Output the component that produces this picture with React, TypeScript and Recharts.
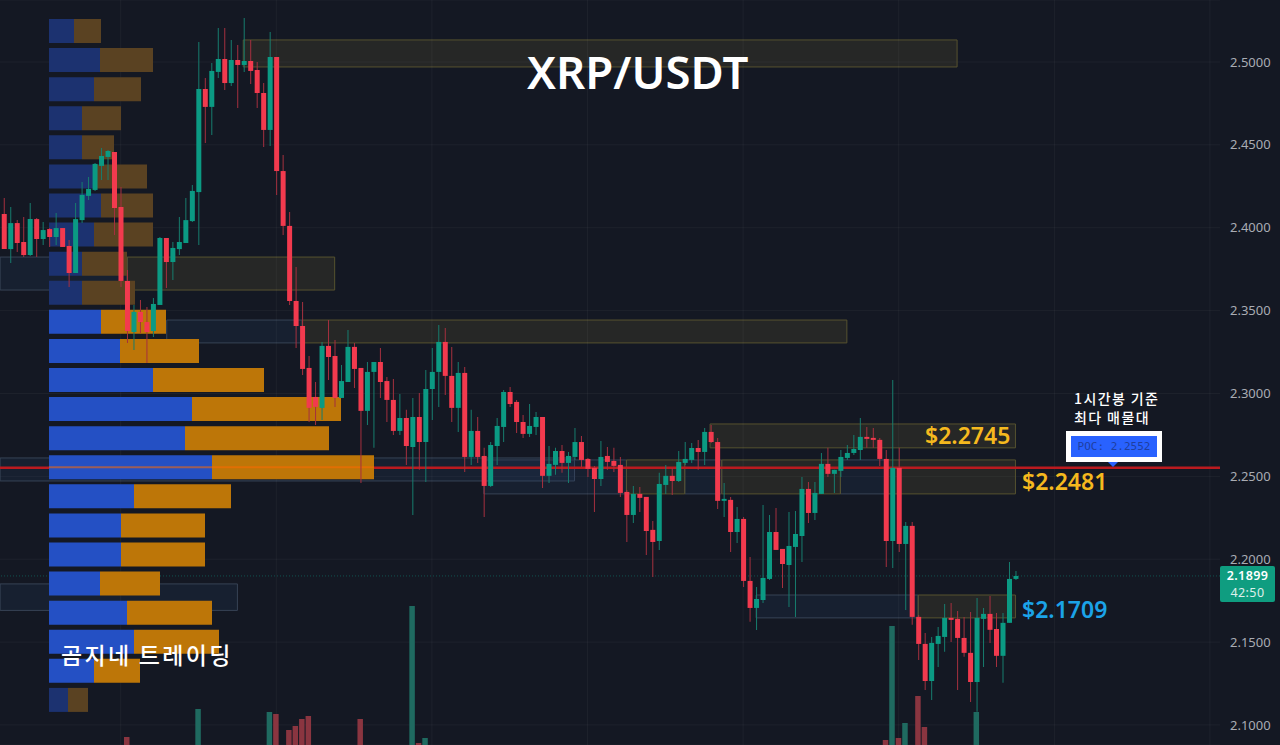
import {
  Bar,
  BarChart,
  CartesianGrid,
  Cell,
  ComposedChart,
  ReferenceArea,
  ReferenceLine,
  XAxis,
  YAxis,
} from "recharts";

// hourly candles, oldest first
const opens = [
  2.4083, 2.3871, 2.4028, 2.3914, 2.3835, 2.4052, 2.3932, 2.3992, 2.3944, 2.3998,
  2.389, 2.3727, 2.4046, 2.4192, 2.4228, 2.4373, 2.4427, 2.4457, 2.4125, 2.3679,
  2.3371, 2.3492, 2.3431, 2.3377, 2.3534, 2.3938, 2.3793, 2.3871, 2.3908, 2.404,
  2.4215, 2.4837, 2.4729, 2.494, 2.5018, 2.4873, 2.5012, 2.4982, 2.5006, 2.4952,
  2.4813, 2.459, 2.503, 2.4342, 2.4011, 2.3558, 2.3407, 2.3154, 2.2979, 2.2913,
  2.3287, 2.3226, 2.2973, 2.3069, 2.3281, 2.3154, 2.2895, 2.313, 2.319, 2.3075,
  2.2961, 2.2774, 2.2852, 2.2677, 2.2858, 2.2707, 2.3027, 2.313, 2.3311, 2.3106,
  2.2913, 2.3124, 2.2617, 2.2774, 2.2623, 2.2442, 2.2683, 2.2798, 2.3009, 2.2949,
  2.2828, 2.2756, 2.2798, 2.2858, 2.2503, 2.2569, 2.2653, 2.2581, 2.2617, 2.2707,
  2.2605, 2.2551, 2.2484, 2.2623, 2.2593, 2.2569, 2.2406, 2.2267, 2.2394, 2.2376,
  2.2177, 2.211, 2.2448, 2.2503, 2.2472, 2.2581, 2.2599, 2.2671, 2.2647, 2.2768,
  2.2707, 2.2352, 2.2358, 2.2164, 2.2243, 2.1869, 2.1706, 2.1754, 2.1881, 2.2164,
  2.2062, 2.1965, 2.2074, 2.214, 2.2424, 2.2279, 2.2394, 2.2575, 2.2515, 2.2533,
  2.2611, 2.2641, 2.2659, 2.2738, 2.2732, 2.272, 2.2605, 2.211, 2.2551, 2.2092,
  2.2201, 2.1652, 2.1489, 2.1265, 2.1489, 2.1531, 2.1646, 2.164, 2.1525, 2.1435,
  2.1259, 2.164, 2.167, 2.1579, 2.1417, 2.1616, 2.1881,
];
const closes = [
  2.3871, 2.4028, 2.3908, 2.3835, 2.4052, 2.3932, 2.3986, 2.3944, 2.3998, 2.3884,
  2.3727, 2.4052, 2.4198, 2.4234, 2.4385, 2.4433, 2.4463, 2.4119, 2.3679, 2.3377,
  2.3492, 2.3431, 2.3371, 2.354, 2.3938, 2.3793, 2.3878, 2.3914, 2.4046, 2.4222,
  2.4837, 2.4729, 2.4946, 2.5018, 2.4873, 2.5012, 2.4982, 2.5006, 2.4946, 2.4813,
  2.459, 2.503, 2.4342, 2.4011, 2.3558, 2.3407, 2.3148, 2.2913, 2.2919, 2.3287,
  2.322, 2.2973, 2.3075, 2.3281, 2.3148, 2.2895, 2.313, 2.319, 2.3069, 2.2961,
  2.2774, 2.2852, 2.2683, 2.2858, 2.2707, 2.3027, 2.313, 2.3311, 2.3106, 2.2913,
  2.3124, 2.2617, 2.2774, 2.2617, 2.2442, 2.2689, 2.2804, 2.3009, 2.2937, 2.2828,
  2.2756, 2.2804, 2.2858, 2.2503, 2.2575, 2.2653, 2.2581, 2.2623, 2.2707, 2.2599,
  2.2545, 2.2484, 2.2617, 2.2587, 2.2563, 2.24, 2.2267, 2.2394, 2.237, 2.217,
  2.2104, 2.2454, 2.2503, 2.2472, 2.2587, 2.2605, 2.2671, 2.2647, 2.2768, 2.2707,
  2.2352, 2.2364, 2.2164, 2.2243, 2.1869, 2.1706, 2.176, 2.1887, 2.2164, 2.2056,
  2.1971, 2.208, 2.2152, 2.2424, 2.2279, 2.24, 2.2575, 2.2515, 2.2539, 2.2617,
  2.2641, 2.2665, 2.2738, 2.2726, 2.272, 2.2605, 2.211, 2.2551, 2.2092, 2.2201,
  2.1652, 2.1489, 2.1265, 2.1495, 2.1537, 2.1646, 2.1634, 2.1525, 2.1435, 2.1259,
  2.1646, 2.167, 2.1574, 2.1417, 2.1616, 2.1881, 2.1899,
];
const highs = [
  2.4179, 2.4125, 2.4046, 2.4064, 2.4149, 2.4058, 2.4034, 2.3998, 2.4089, 2.3998,
  2.3926, 2.4149, 2.4276, 2.4306, 2.4391, 2.4481, 2.4469, 2.4457, 2.4246, 2.3745,
  2.3534, 2.3564, 2.3522, 2.3576, 2.3944, 2.3938, 2.3914, 2.4064, 2.4179, 2.4258,
  2.5121, 2.4903, 2.4994, 2.5205, 2.5205, 2.5133, 2.5103, 2.5265, 2.5133, 2.5,
  2.4873, 2.5181, 2.503, 2.4439, 2.4095, 2.3763, 2.3552, 2.3226, 2.3069, 2.3311,
  2.3443, 2.3323, 2.3172, 2.3383, 2.3305, 2.3154, 2.319, 2.319, 2.3275, 2.31,
  2.3087, 2.2997, 2.2901, 2.2973, 2.3003, 2.3142, 2.3275, 2.3413, 2.3395, 2.3281,
  2.319, 2.316, 2.2901, 2.2858, 2.2672, 2.2707, 2.2852, 2.3021, 2.3039, 2.2961,
  2.287, 2.2937, 2.2888, 2.2858, 2.2683, 2.2672, 2.2689, 2.2647, 2.2792, 2.2744,
  2.2611, 2.2563, 2.2713, 2.2677, 2.2672, 2.2617, 2.2418, 2.2442, 2.2436, 2.2376,
  2.2231, 2.2521, 2.2569, 2.2551, 2.2653, 2.2707, 2.2701, 2.2719, 2.2792, 2.281,
  2.2732, 2.246, 2.2376, 2.2315, 2.2255, 2.2014, 2.1833, 2.2327, 2.2267, 2.2309,
  2.2062, 2.2285, 2.2291, 2.2496, 2.2466, 2.2466, 2.2641, 2.2672, 2.2539, 2.2659,
  2.2689, 2.275, 2.2852, 2.2798, 2.2792, 2.2732, 2.2659, 2.3081, 2.2672, 2.2225,
  2.2225, 2.1664, 2.1555, 2.1531, 2.1591, 2.173, 2.1736, 2.1688, 2.1652, 2.1682,
  2.1766, 2.1706, 2.1778, 2.1676, 2.1676, 2.1983, 2.1929,
];
const lows = [
  2.3871, 2.3787, 2.3853, 2.3823, 2.3829, 2.3823, 2.3896, 2.3884, 2.3896, 2.3884,
  2.3643, 2.3727, 2.4028, 2.4167, 2.4222, 2.4288, 2.4288, 2.3956, 2.3643, 2.3305,
  2.3263, 2.3365, 2.3184, 2.3341, 2.3534, 2.3637, 2.3685, 2.3835, 2.3908, 2.4034,
  2.3896, 2.4511, 2.456, 2.4903, 2.4831, 2.4855, 2.4722, 2.494, 2.4867, 2.4722,
  2.4487, 2.4493, 2.4198, 2.3956, 2.3534, 2.3275, 2.3112, 2.2828, 2.281, 2.284,
  2.3081, 2.2919, 2.2973, 2.3069, 2.3033, 2.246, 2.281, 2.2672, 2.2973, 2.2828,
  2.275, 2.275, 2.2569, 2.2267, 2.2539, 2.2466, 2.284, 2.2919, 2.2991, 2.2828,
  2.2768, 2.2526, 2.2569, 2.2581, 2.2255, 2.2436, 2.2569, 2.2707, 2.2919, 2.2762,
  2.2732, 2.2738, 2.275, 2.243, 2.246, 2.2509, 2.2521, 2.246, 2.2599, 2.2557,
  2.2496, 2.2285, 2.2442, 2.2539, 2.2526, 2.2376, 2.2104, 2.2219, 2.2285, 2.2026,
  2.1893, 2.2056, 2.2394, 2.2388, 2.2466, 2.2569, 2.2581, 2.2539, 2.2569, 2.2701,
  2.2303, 2.2255, 2.2044, 2.2098, 2.1833, 2.1622, 2.1573, 2.1736, 2.1875, 2.2056,
  2.1827, 2.1712, 2.1652, 2.1983, 2.2219, 2.2237, 2.2394, 2.2496, 2.24, 2.2496,
  2.2599, 2.2629, 2.2599, 2.2672, 2.2672, 2.2563, 2.1953, 2.1947, 2.2044, 2.1694,
  2.1604, 2.1392, 2.1211, 2.1151, 2.135, 2.1441, 2.1501, 2.1211, 2.1411, 2.1139,
  2.1079, 2.135, 2.1495, 2.135, 2.1254, 2.1616, 2.1875,
];

// only the candles whose volume reaches into the picture (millions)
const volumeCandles = [19, 30, 41, 42, 44, 45, 46, 47, 55, 63, 64, 65, 136, 137, 138, 139, 141, 142, 150];
const volumeValues = [0.8, 3.6, 3.3, 3.1, 1.5, 1.9, 2.6, 2.9, 2.6, 13.9, 0.2, 0.7, 0.5, 11.9, 0.7, 2.2, 4.9, 1.8, 3.3];

// volume profile, top row first
const profileLevels = [
  "2.5181", "2.5005", "2.4830", "2.4654", "2.4479", "2.4303", "2.4128", "2.3952",
  "2.3777", "2.3601", "2.3426", "2.3250", "2.3075", "2.2899", "2.2724", "2.2548",
  "2.2373", "2.2197", "2.2022", "2.1846", "2.1671", "2.1495", "2.1320", "2.1144",
];
const profileBuy = [25, 51, 45, 33, 33, 46, 52, 45, 33, 33, 52, 71, 104, 143, 136, 163, 85, 72, 72, 51, 78, 85, 45, 19];
const profileSell = [27, 53, 47, 39, 32, 52, 52, 59, 45, 53, 65, 79, 111, 149, 144, 162, 97, 84, 84, 60, 85, 85, 46, 20];

// supply and demand boxes: first candle, last candle, upper price, lower price
const olive = [
  [36.9, 147, 2.5133, 2.497],
  [46, 130, 2.3443, 2.3305],
  [19, 51, 2.3823, 2.3624],
  [108.9, 156, 2.2816, 2.2672],
  [96, 105, 2.2599, 2.2394],
  [110.7, 129, 2.2599, 2.2394],
  [136, 156, 2.2599, 2.2394],
  [141, 156, 2.1784, 2.1646],
];
const blue = [
  [25.1, 46, 2.3443, 2.3305],
  [-0.6, 19, 2.3823, 2.3624],
  [-0.6, 36, 2.1851, 2.1691],
  [-0.6, 88, 2.2611, 2.2472],
  [74, 96, 2.2599, 2.2394],
  [105, 110.7, 2.2599, 2.2394],
  [129, 136, 2.2599, 2.2394],
  [116, 141, 2.1784, 2.1646],
];

const priceTicks = [2.1, 2.15, 2.2, 2.25, 2.3, 2.35, 2.4, 2.45, 2.5];
const dayTicks = [18, 42, 66, 90, 114, 138, 162, 186];
const POC = 2.2552;
const LAST = 2.1899;

const SLOT_COUNT = 188;
const PRICE_DOMAIN: [number, number] = [2.0879, 2.5374];
const W = 1280;
const H = 745;
const BG = "#141823";
const UP = "#0b9a83";
const DOWN = "#f23a4e";
const UP_WICK = "#177d6e";
const DOWN_WICK = "#a5303f";
const SANS = '"Noto Sans", "Noto Sans CJK KR", sans-serif';
const KR = '"Noto Sans CJK KR", "Noto Sans", sans-serif';

const slots = Array.from({ length: SLOT_COUNT }, (_, i) => i);
const candleRows = slots.map((slot) => {
  const live = slot < opens.length;
  const v = volumeCandles.indexOf(slot);
  return {
    slot,
    up: live && closes[slot] >= opens[slot],
    wick: live ? [lows[slot], highs[slot]] : null,
    body: live ? [Math.min(opens[slot], closes[slot]), Math.max(opens[slot], closes[slot])] : null,
    volume: v >= 0 ? volumeValues[v] : null,
  };
});
const profileRows = profileLevels.map((level, i) => ({
  level,
  buy: profileBuy[i],
  sell: profileSell[i],
  faded: i < 10 || i === profileLevels.length - 1,
}));

const layer: React.CSSProperties = { position: "absolute", left: 0, top: 0 };

function Tag({ x, y, size, color, weight = 600, font = SANS, spacing = 0, children }: any) {
  return (
    <div
      style={{
        position: "absolute",
        left: x,
        top: y,
        fontFamily: font,
        fontSize: size,
        fontWeight: weight,
        letterSpacing: spacing,
        color,
        lineHeight: 1,
        whiteSpace: "nowrap",
      }}
    >
      {children}
    </div>
  );
}

function BackLayer() {
  return (
    <ComposedChart
      width={W}
      height={H}
      data={candleRows}
      margin={{ top: 0, right: 0, bottom: 0, left: 0 }}
      style={layer}
    >
      <CartesianGrid xAxisId="pos" yAxisId="price" vertical={false} stroke="#ffffff" strokeOpacity={0.045} />
      <XAxis
        xAxisId="pos"
        type="number"
        dataKey="slot"
        domain={[-0.617, 187.55]}
        ticks={dayTicks}
        allowDataOverflow
        hide
      />
      <YAxis
        yAxisId="price"
        orientation="right"
        width={60}
        domain={PRICE_DOMAIN}
        ticks={priceTicks}
        allowDataOverflow
        axisLine={false}
        tickLine={false}
        tickMargin={4}
        tickFormatter={(v: number) => v.toFixed(4)}
        tick={{ fontSize: 13, fill: "#a9acb4", fontFamily: SANS }}
      />
      {blue.map((z, i) => (
        <ReferenceArea
          key={`b${i}`}
          xAxisId="pos"
          yAxisId="price"
          x1={z[0]}
          x2={z[1]}
          y1={z[2]}
          y2={z[3]}
          fill="#2b4a77"
          fillOpacity={0.16}
          stroke="#374355"
          strokeWidth={1}
        />
      ))}
      {olive.map((z, i) => (
        <ReferenceArea
          key={`o${i}`}
          xAxisId="pos"
          yAxisId="price"
          x1={z[0]}
          x2={z[1]}
          y1={z[2]}
          y2={z[3]}
          fill="#8a7d3a"
          fillOpacity={0.15}
          stroke="#56522f"
          strokeWidth={1}
        />
      ))}
      {dayTicks.map((t) => (
        <ReferenceLine key={t} xAxisId="pos" yAxisId="price" x={t} stroke="#ffffff" strokeOpacity={0.045} />
      ))}
      <ReferenceLine xAxisId="pos" yAxisId="price" y={LAST} stroke={UP} strokeOpacity={0.45} strokeDasharray="1 2" />
      <ReferenceLine xAxisId="pos" yAxisId="price" y={POC} stroke="#bb1a1f" strokeWidth={2.5} />
    </ComposedChart>
  );
}

function ProfileLayer() {
  return (
    <BarChart
      width={W}
      height={H}
      layout="vertical"
      data={profileRows}
      barCategoryGap={2.5}
      margin={{ top: 16.5, right: 906, bottom: 30.5, left: 49 }}
      style={layer}
    >
      <XAxis type="number" domain={[0, 325]} hide />
      <YAxis type="category" dataKey="level" hide />
      <Bar dataKey="buy" stackId="p" isAnimationActive={false}>
        {profileRows.map((r) => (
          <Cell key={r.level} fill={r.faded ? "#1c3270" : "#2450c4"} />
        ))}
      </Bar>
      <Bar dataKey="sell" stackId="p" isAnimationActive={false}>
        {profileRows.map((r) => (
          <Cell key={r.level} fill={r.faded ? "#5a4222" : "#bd7608"} />
        ))}
      </Bar>
      <ReferenceLine y="2.2548" stroke="#ff6a00" strokeOpacity={0.55} strokeWidth={2} />
    </BarChart>
  );
}

function CandleLayer() {
  return (
    <ComposedChart
      width={W}
      height={H}
      data={candleRows}
      margin={{ top: 0, right: 60, bottom: 0, left: 0.76 }}
      style={layer}
    >
      <XAxis xAxisId="vol" dataKey="slot" hide />
      <XAxis xAxisId="wick" dataKey="slot" hide />
      <XAxis xAxisId="body" dataKey="slot" hide />
      <YAxis yAxisId="price" domain={PRICE_DOMAIN} allowDataOverflow hide />
      <YAxis yAxisId="volume" domain={[0, 74.5]} allowDataOverflow hide />
      <Bar xAxisId="vol" yAxisId="volume" dataKey="volume" barSize={5.5} isAnimationActive={false}>
        {candleRows.map((r) => (
          <Cell key={r.slot} fill={r.up ? "#1f6a60" : "#8a3540"} />
        ))}
      </Bar>
      <Bar xAxisId="wick" yAxisId="price" dataKey="wick" barSize={1} isAnimationActive={false}>
        {candleRows.map((r) => (
          <Cell key={r.slot} fill={r.up ? UP_WICK : DOWN_WICK} />
        ))}
      </Bar>
      <Bar xAxisId="body" yAxisId="price" dataKey="body" barSize={5} isAnimationActive={false}>
        {candleRows.map((r) => (
          <Cell key={r.slot} fill={r.up ? UP : DOWN} />
        ))}
      </Bar>
    </ComposedChart>
  );
}

export default function App() {
  return (
    <div style={{ position: "fixed", left: 0, top: 0, width: W, height: H, background: BG, overflow: "hidden" }}>
      <BackLayer />
      <ProfileLayer />
      <CandleLayer />

      <Tag x={527} y={49} size={45.5} color="#ffffff" weight={600}>XRP/USDT</Tag>
      <Tag x={61} y={643} size={23} color="#ffffff" font={KR} weight={500} spacing={2.3}>곰지네 트레이딩</Tag>
      <Tag x={925} y={424} size={23} color="#f5b91e">$2.2745</Tag>
      <Tag x={1022} y={470} size={23} color="#f5b91e">$2.2481</Tag>
      <Tag x={1022} y={598} size={23} color="#1ba3e8">$2.1709</Tag>
      <Tag x={1074} y={391} size={14} color="#ffffff" font={KR} weight={500} spacing={1.4}>1시간봉 기준</Tag>
      <Tag x={1074} y={410} size={14} color="#ffffff" font={KR} weight={500} spacing={1.4}>최다 매물대</Tag>

      <div
        style={{
          position: "absolute",
          left: 1066,
          top: 431,
          width: 86,
          height: 21,
          border: "5px solid #ffffff",
          background: "#2962ff",
          textAlign: "center",
          fontFamily: '"DejaVu Sans Mono", monospace',
          fontSize: 11,
          lineHeight: "21px",
          color: "#1f3f9f",
        }}
      >
        POC: 2.2552
      </div>
      <div
        style={{
          position: "absolute",
          left: 1108,
          top: 462,
          width: 0,
          height: 0,
          borderLeft: "5px solid transparent",
          borderRight: "5px solid transparent",
          borderTop: "5px solid #2962ff",
        }}
      />

      <div
        style={{
          position: "absolute",
          left: 1220,
          top: 566,
          width: 55,
          height: 36,
          borderRadius: 2,
          background: "#0f9d80",
          color: "#ffffff",
          fontFamily: SANS,
          fontSize: 12.5,
          letterSpacing: 0.4,
          lineHeight: "17px",
          paddingTop: 1,
          boxSizing: "border-box",
          textAlign: "center",
        }}
      >
        <div style={{ fontWeight: 600 }}>2.1899</div>
        <div style={{ opacity: 0.85 }}>42:50</div>
      </div>
    </div>
  );
}
